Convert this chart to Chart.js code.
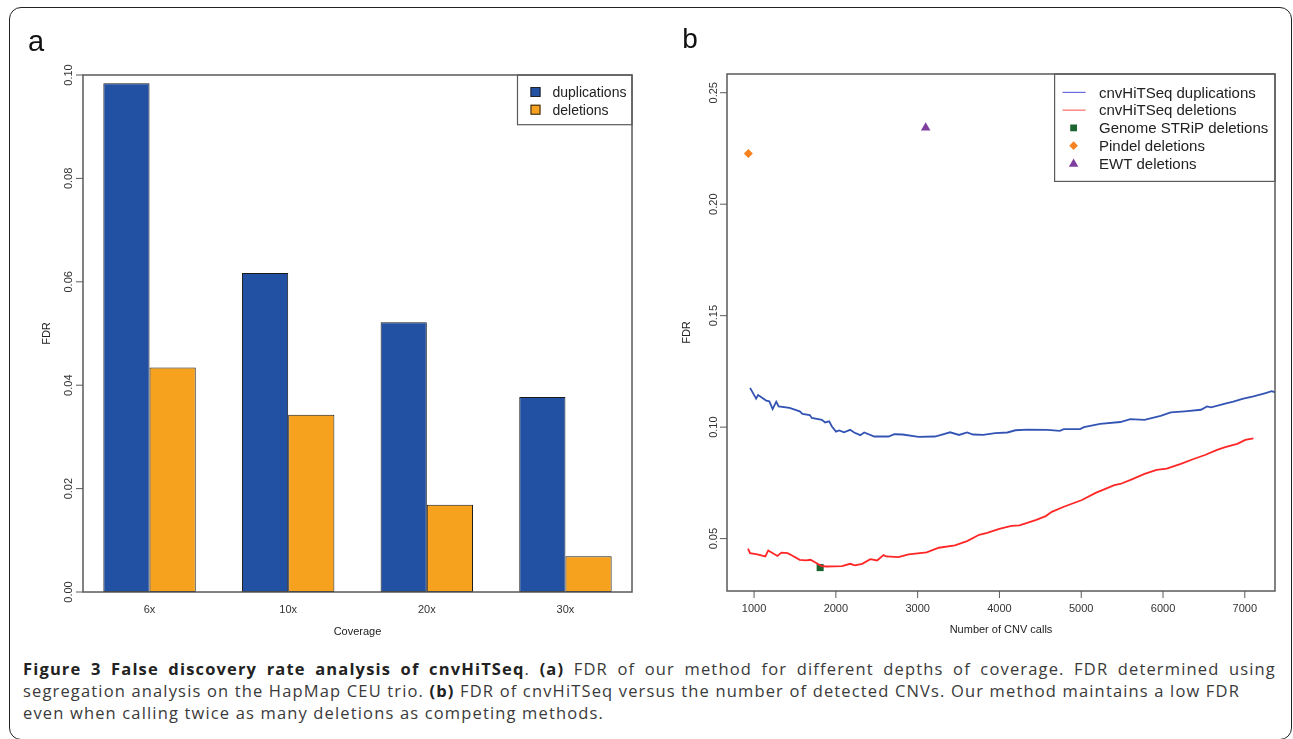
<!DOCTYPE html>
<html><head><meta charset="utf-8">
<script src="https://cdn.jsdelivr.net/npm/chart.js"></script>
<style>
html,body{margin:0;padding:0;background:#fff;}
#wrap{position:relative;width:1293px;height:739px;overflow:hidden;background:#fff;}
#frame{position:absolute;left:9px;top:7px;width:1283px;height:733px;box-sizing:border-box;border:1.5px solid #222;border-radius:12px;}
#ca{position:absolute;left:0;top:0;}
#cb{position:absolute;left:660px;top:0;}
.cap{position:absolute;left:23px;font-family:'Open Sans','Noto Sans',sans-serif;font-size:16.5px;color:#3a3a3a;white-space:nowrap;line-height:20px;}
.cap b{color:#222;font-weight:700;}
</style></head>
<body>
<div id="wrap">
<div id="frame"></div>
<canvas id="ca" width="660" height="650"></canvas>
<canvas id="cb" width="633" height="650"></canvas>
<div class="cap" id="cap1"><b>Figure 3 False discovery rate analysis of cnvHiTSeq</b>. <b>(a)</b> FDR of our method for different depths of coverage. FDR determined using</div>
<div class="cap" id="cap2">segregation analysis on the HapMap CEU trio. <b>(b)</b> FDR of cnvHiTSeq versus the number of detected CNVs. Our method maintains a low FDR</div>
<div class="cap" id="cap3">even when calling twice as many deletions as competing methods.</div>
</div>
<script>
// ---------- Panel a data ----------
const categories = ['6x','10x','20x','30x'];
const dupFDR = [0.0984, 0.0617, 0.0522, 0.0377];
const delFDR = [0.0434, 0.0343, 0.0169, 0.0069];
const seriesA = ['duplications','deletions'];
const yTicksA = [0, 0.02, 0.04, 0.06, 0.08, 0.10];
const yTickLabelsA = ['0.00','0.02','0.04','0.06','0.08','0.10'];

// ---------- Panel b data ----------
const dupX = [951,1025,1049,1089,1148,1187,1227,1271,1301,1434,1558,1592,1681,1706,1829,1869,1918,1952,2002,2041,2100,2174,2224,2298,2347,2470,2643,2716,2815,3012,3210,3309,3397,3506,3604,3678,3801,3949,4097,4196,4344,4590,4738,4787,4985,5034,5231,5478,5601,5773,5971,6094,6267,6464,6538,6588,6760,6859,6982,7106,7254,7328,7373];
const dupY = [0.1176,0.1128,0.1144,0.1134,0.1119,0.1116,0.1081,0.1114,0.1093,0.1086,0.1071,0.1059,0.1054,0.1041,0.1033,0.1021,0.1026,0.1003,0.0980,0.0985,0.0977,0.0988,0.0976,0.0964,0.0976,0.0958,0.0958,0.0968,0.0967,0.0956,0.0958,0.0968,0.0977,0.0965,0.0976,0.0967,0.0965,0.0973,0.0976,0.0986,0.0989,0.0988,0.0983,0.0991,0.0991,0.1000,0.1015,0.1023,0.1036,0.1033,0.1051,0.1066,0.1071,0.1078,0.1093,0.1089,0.1105,0.1114,0.1128,0.1138,0.1153,0.1161,0.1156];
const delX = [926,951,1039,1138,1173,1286,1335,1409,1459,1558,1632,1691,1755,1819,1878,2076,2174,2234,2322,2421,2504,2583,2617,2765,2889,3110,3259,3456,3604,3752,3850,3998,4146,4245,4442,4566,4640,4787,5009,5182,5281,5404,5478,5626,5774,5922,6045,6218,6365,6513,6661,6760,6908,7006,7105];
const delY = [0.0455,0.0435,0.0429,0.0420,0.0447,0.0422,0.0437,0.0435,0.0425,0.0405,0.0402,0.0405,0.0392,0.0378,0.0375,0.0377,0.0387,0.0380,0.0387,0.0408,0.0402,0.0426,0.0420,0.0417,0.0429,0.0438,0.0459,0.0470,0.0489,0.0517,0.0526,0.0544,0.0557,0.0559,0.0583,0.0601,0.0620,0.0643,0.0673,0.0706,0.0721,0.0740,0.0745,0.0767,0.0790,0.0808,0.0814,0.0835,0.0856,0.0875,0.0898,0.0910,0.0925,0.0943,0.0950];
const stripX = [1808], stripY = [0.0370];
const pindelX = [930], pindelY = [0.2227];
const ewtX = [3098], ewtY = [0.2343];
const xTicksB = [1000,2000,3000,4000,5000,6000,7000];
const xTickLabelsB = ['1000','2000','3000','4000','5000','6000','7000'];
const yTicksB = [0.05,0.10,0.15,0.20,0.25];
const yTickLabelsB = ['0.05','0.10','0.15','0.20','0.25'];
const seriesB = ['cnvHiTSeq duplications','cnvHiTSeq deletions','Genome STRiP deletions','Pindel deletions','EWT deletions'];

// ---------- styles ----------
const FONT = '"Liberation Sans", Arial, Helvetica, sans-serif';
const C_DUP_BAR = '#2251A3', C_DEL_BAR = '#F7A21E';
const C_DUP_LINE = '#3454B4', C_DEL_LINE = '#FF2626';
const C_STRIP = '#1B6630', C_PINDEL = '#F5821F', C_EWT = '#7E3F9E';
const BOX = '#5a5a5a';

function rotText(ctx, txt, x, y, font, color) {
  ctx.save();
  ctx.translate(x, y);
  ctx.rotate(-Math.PI/2);
  ctx.font = font; ctx.fillStyle = color;
  ctx.textAlign = 'center'; ctx.textBaseline = 'alphabetic';
  ctx.fillText(txt, 0, 0);
  ctx.restore();
}
function hline(ctx,x1,y1,x2,y2){ctx.beginPath();ctx.moveTo(x1,y1);ctx.lineTo(x2,y2);ctx.stroke();}
function marker(ctx, style, x, y, r, color) {
  ctx.save(); ctx.fillStyle = color; ctx.beginPath();
  if (style === 'rect') { const s = r*Math.SQRT1_2; ctx.rect(x-s, y-s, 2*s, 2*s); }
  else if (style === 'rectRot') { ctx.moveTo(x, y-r); ctx.lineTo(x+r, y); ctx.lineTo(x, y+r); ctx.lineTo(x-r, y); ctx.closePath(); }
  else if (style === 'triangle') { for (let k=0;k<3;k++){const a=k*2*Math.PI/3; const px=x+Math.sin(a)*r, py=y-Math.cos(a)*r; k?ctx.lineTo(px,py):ctx.moveTo(px,py);} ctx.closePath(); }
  ctx.fill(); ctx.restore();
}

// ---------- Panel a ----------
const groupPos = categories.map((c,i)=>2+3*i);
const rAxesA = {
  id: 'rAxesA',
  afterDraw(chart) {
    const {ctx, chartArea: ca, scales: {x, y}} = chart;
    ctx.save();
    ctx.strokeStyle = BOX; ctx.lineWidth = 1.5;
    ctx.strokeRect(ca.left, ca.top, ca.right-ca.left, ca.bottom-ca.top);
    ctx.lineWidth = 1;
    yTicksA.forEach((v,i)=>{
      const py = y.getPixelForValue(v);
      hline(ctx, ca.left, py, ca.left-7, py);
      rotText(ctx, yTickLabelsA[i], ca.left-11, py, '11px '+FONT, '#333');
    });
    ctx.font = '11px '+FONT; ctx.fillStyle = '#333'; ctx.textAlign='center'; ctx.textBaseline='alphabetic';
    categories.forEach((c,i)=>{ ctx.fillText(c, x.getPixelForValue(groupPos[i]), 613); });
    ctx.fillStyle = '#222';
    ctx.fillText('Coverage', (ca.left+ca.right)/2, 635);
    rotText(ctx, 'FDR', 49.5, (ca.top+ca.bottom)/2, '11px '+FONT, '#222');
    ctx.font = '29px '+FONT; ctx.fillStyle='#111'; ctx.textAlign='center';
    ctx.fillText('a', 36, 50.5);
    // legend
    const lw = 114.5, lh = 49.7, lx = ca.right-lw, ly = ca.top;
    ctx.strokeStyle = BOX; ctx.lineWidth = 1.2;
    ctx.strokeRect(lx, ly, lw, lh);
    const cols = [C_DUP_BAR, C_DEL_BAR];
    seriesA.forEach((s,i)=>{
      const ry = ly + 17 + i*17.7;
      ctx.fillStyle = cols[i]; ctx.fillRect(lx+13, ry-5, 10, 10);
      ctx.strokeStyle = '#222'; ctx.lineWidth = 1; ctx.strokeRect(lx+13.5, ry-4.5, 9, 9);
      ctx.font = '14px '+FONT; ctx.fillStyle='#222'; ctx.textAlign='left';
      ctx.fillText(s, lx+35, ry+5);
    });
    ctx.restore();
  }
};

new Chart(document.getElementById('ca'), {
  type: 'bar',
  data: {
    datasets: [
      { label: seriesA[0], data: dupFDR.map((v,i)=>({x: groupPos[i], y: v})), backgroundColor: C_DUP_BAR, borderColor: '#1a1a1a', borderWidth: 1, borderSkipped: false },
      { label: seriesA[1], data: delFDR.map((v,i)=>({x: groupPos[i], y: v})), backgroundColor: C_DEL_BAR, borderColor: '#1a1a1a', borderWidth: 1, borderSkipped: false }
    ]
  },
  options: {
    responsive: false, animation: false, devicePixelRatio: 1, events: [],
    layout: { padding: { left: 83, right: 28, top: 75, bottom: 58 } },
    datasets: { bar: { categoryPercentage: 2/3, barPercentage: 1 } },
    plugins: { legend: { display: false }, tooltip: { enabled: false } },
    scales: {
      x: { type: 'linear', display: false, offset: false, min: 0.56, max: 12.44,
           afterBuildTicks: s => { s.ticks = groupPos.map(v=>({value: v})); } },
      y: { type: 'linear', display: false, min: 0, max: 0.10 }
    }
  },
  plugins: [rAxesA]
});

// ---------- Panel b ----------
const rAxesB = {
  id: 'rAxesB',
  afterDraw(chart) {
    const {ctx, chartArea: ca, scales: {x, y}} = chart;
    ctx.save();
    ctx.strokeStyle = BOX; ctx.lineWidth = 1.5;
    ctx.strokeRect(ca.left, ca.top, ca.right-ca.left, ca.bottom-ca.top);
    ctx.lineWidth = 1;
    yTicksB.forEach((v,i)=>{
      const py = y.getPixelForValue(v);
      hline(ctx, ca.left, py, ca.left-7, py);
      rotText(ctx, yTickLabelsB[i], ca.left-10.5, py, '11px '+FONT, '#333');
    });
    ctx.font = '11px '+FONT; ctx.fillStyle='#333'; ctx.textAlign='center'; ctx.textBaseline='alphabetic';
    xTicksB.forEach((v,i)=>{
      const px = x.getPixelForValue(v);
      hline(ctx, px, ca.bottom, px, ca.bottom+7);
      ctx.fillText(xTickLabelsB[i], px, 611.5);
    });
    ctx.fillStyle='#222';
    ctx.fillText('Number of CNV calls', (ca.left+ca.right)/2, 633);
    rotText(ctx, 'FDR', 30.3, (ca.top+ca.bottom)/2, '11px '+FONT, '#222');
    ctx.font = '28px '+FONT; ctx.fillStyle='#111'; ctx.textAlign='center';
    ctx.fillText('b', 30, 48.3);
    // legend
    const lw = 220.4, lh = 107.4, lx = ca.right-lw, ly = ca.top;
    ctx.strokeStyle = BOX; ctx.lineWidth = 1.2;
    ctx.strokeRect(lx, ly, lw, lh);
    const sx = lx + 19;
    seriesB.forEach((s,i)=>{
      const ry = ly + 18.4 + i*17.75;
      if (i===0) { ctx.strokeStyle='#6b6be0'; ctx.lineWidth=1.2; hline(ctx, lx+8, ry, lx+31, ry); }
      if (i===1) { ctx.strokeStyle='#ff6a6a'; ctx.lineWidth=1.2; hline(ctx, lx+8, ry, lx+31, ry); }
      if (i===2) marker(ctx, 'rect', sx, ry, 4.8, C_STRIP);
      if (i===3) marker(ctx, 'rectRot', sx, ry, 4.3, C_PINDEL);
      if (i===4) marker(ctx, 'triangle', sx, ry+0.5, 5.5, C_EWT);
      ctx.font = '15px '+FONT; ctx.fillStyle='#222'; ctx.textAlign='left';
      ctx.fillText(s, lx+44.4, ry+5.3);
    });
    ctx.restore();
  }
};

const pts = (xs, ys) => xs.map((v,i)=>({x: v, y: ys[i]}));
new Chart(document.getElementById('cb'), {
  type: 'scatter',
  data: {
    datasets: [
      { label: seriesB[1], data: pts(delX, delY), showLine: true, borderColor: C_DEL_LINE, borderWidth: 1.8, pointRadius: 0, tension: 0 },
      { label: seriesB[0], data: pts(dupX, dupY), showLine: true, borderColor: C_DUP_LINE, borderWidth: 1.8, pointRadius: 0, tension: 0 },
      { label: seriesB[2], data: pts(stripX, stripY), pointStyle: 'rect', pointRadius: 5, backgroundColor: C_STRIP, borderColor: C_STRIP, borderWidth: 0 },
      { label: seriesB[3], data: pts(pindelX, pindelY), pointStyle: 'rectRot', pointRadius: 4.5, backgroundColor: C_PINDEL, borderColor: C_PINDEL, borderWidth: 0 },
      { label: seriesB[4], data: pts(ewtX, ewtY), pointStyle: 'triangle', pointRadius: 5.5, backgroundColor: C_EWT, borderColor: C_EWT, borderWidth: 0 }
    ]
  },
  options: {
    responsive: false, animation: false, devicePixelRatio: 1, events: [],
    layout: { padding: { left: 67, right: 18, top: 74, bottom: 59 } },
    plugins: { legend: { display: false }, tooltip: { enabled: false } },
    scales: {
      x: { type: 'linear', display: false, min: 669, max: 7369 },
      y: { type: 'linear', display: false, min: 0.0265, max: 0.2584 }
    }
  },
  plugins: [rAxesB]
});

// ---------- caption fitting: letter spacing so that line 2 ends near x=1240 ----------
(function(){
  const c1 = document.getElementById('cap1'), c2 = document.getElementById('cap2'), c3 = document.getElementById('cap3');
  const fs = 16.5;
  const w2 = c2.getBoundingClientRect().width;
  const ls = (1217 - w2) / c2.textContent.length;
  const lines = [c1,c2,c3];
  const baselines = [675.5, 697.5, 719.5];
  lines.forEach((e,i)=>{
    e.style.letterSpacing = ls + 'px';
    const asc = 1.069*fs, desc = 0.293*fs;
    const half = (20 - (asc+desc))/2;
    e.style.top = (baselines[i] - half - asc) + 'px';
  });
  const w1 = c1.getBoundingClientRect().width;
  const sp = (c1.textContent.match(/ /g)||[]).length;
  c1.style.wordSpacing = ((1253 - w1)/sp) + 'px';
})();
</script>
</body></html>
